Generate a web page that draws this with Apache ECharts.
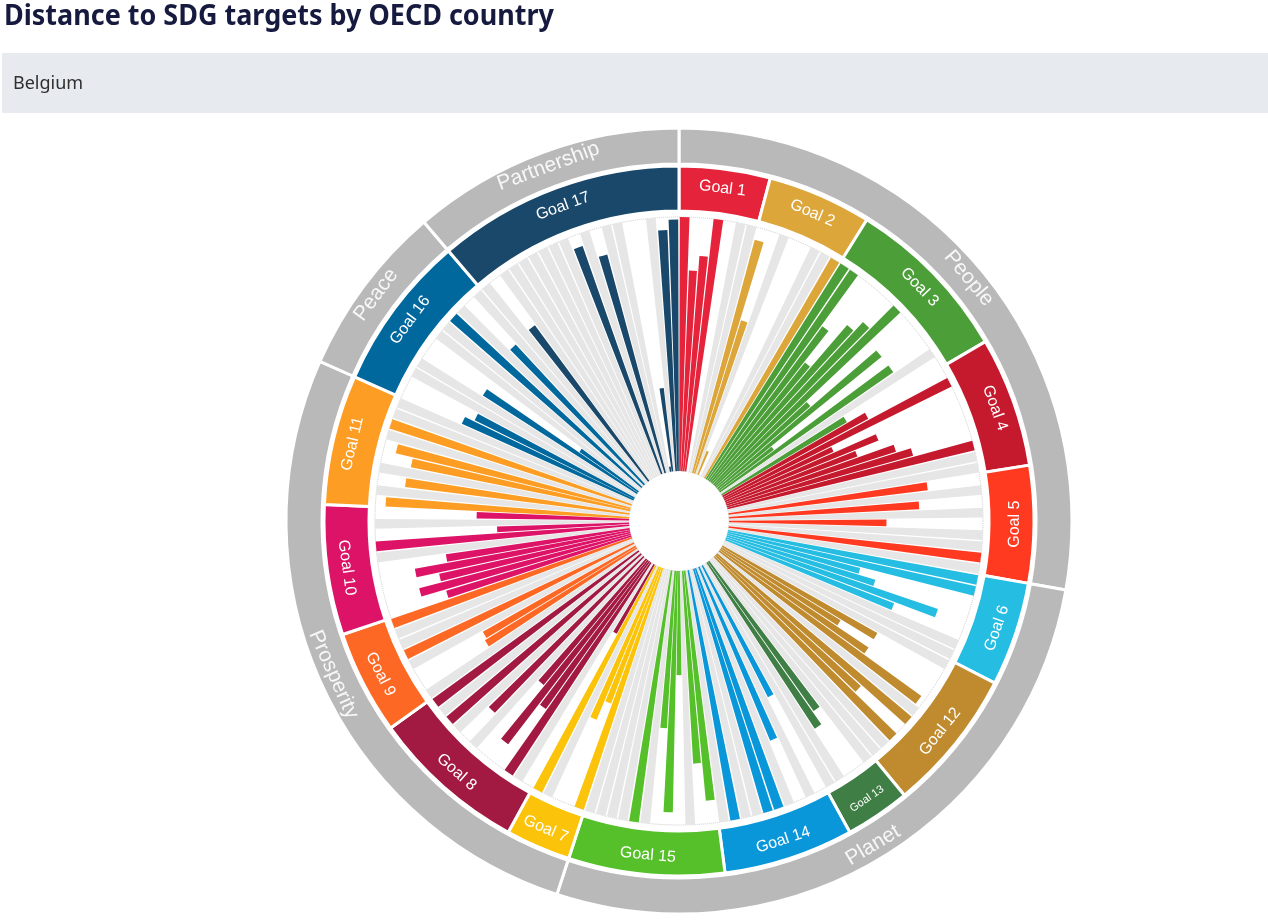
<!DOCTYPE html>
<html>
<head>
<meta charset="utf-8">
<script src="https://cdn.jsdelivr.net/npm/echarts@6/dist/echarts.min.js"></script>
<style>
html,body{margin:0;padding:0;background:#ffffff;}
#chart{width:1268px;height:920px;}
</style>
</head>
<body>
<div id="chart"></div>
<script>
// ---- Data ----
const titleText = 'Distance to SDG targets by OECD country';
const countryName = 'Belgium';

// clockwise order of goals around the wheel
const goalOrder = [1, 2, 3, 4, 5, 6, 12, 13, 14, 15, 7, 8, 9, 10, 11, 16, 17];
const goalColors = ['#E5243B', '#DDA63A', '#4C9F38', '#C5192D', '#FF3A21', '#26BDE2', '#FCC30B', '#A21942',
  '#FD6925', '#DD1367', '#FD9D24', '#BF8B2E', '#3F7E44', '#0A97D9', '#56C02B', '#00689D', '#19486A'];

// target values per goal (1 = target reached / outer circle); null = no data (grey bar)
const g1 = [1.0, 0.79, 0.85, 1.0, 0, null, null];
const g2 = [0.95, 0.63, null, 0.1, 0, null, null, 1.0];
const g3 = [1.0, 1.0, 0.755, 0.60, 0.82, 0.87, 1.0, 0.49, 0.83, 0.27, 0.83, null, 0.57];
const g4 = [0.65, 1.0, 0.47, 0.65, 0.55, 0.70, 0.76, 1.0, null, null];
const g5 = [0.79, null, 0.75, null, 0.62, null, null, 1.0, null];
const g6 = [1.0, 1.0, 0.54, 0.61, 0.88, 0.71, null, null];
const g7 = [1.0, 0.57, 0.65, null, 1.0];
const g8 = [0.31, null, 1.0, 0.71, 0.91, 0.64, null, 0.85, null, 1.0, null, 1.0];
const g9 = [null, 0.70, 0.69, null, 1.0, null, null, 1.0];
const g10 = [0.76, 0.86, 0.77, 0.86, 0.73, null, 1.0, 0.52, null, 0.60];
const g11 = [0.96, null, 0.89, null, 0.88, 0.95, null, 1.0, null, null];
const g12 = [null, 0.70, 0.55, 0.70, 0.98, null, 1.0, 0.77, 1.0, null, null];
const g13 = [null, 0.72, 0.78, null, null];
const g14 = [0.58, null, 0.74, null, 1.0, 1.0, null, null, 1.0, null];
const g15 = [0.91, 0.76, null, 0.41, 0.95, 0.62, null, 1.0, null, null, null, null];
const g16 = [0.74, 0.70, null, null, 0.72, 0.28, null, null, 1.0, null, 0.75, null];
const g17 = [null, 0.76, null, null, null, null, null, null, null, 0.95, null, 0.89, null, null, 0.02, 0.33, null, 0.95, 0.99];

const pillarNames = ['People', 'Planet', 'Prosperity', 'Peace', 'Partnership'];
const pillarGoals = [[1, 2, 3, 4, 5], [6, 12, 13, 14, 15], [7, 8, 9, 10, 11], [16], [17]];

// ---- Build ----
const goalValues = [g1, g2, g3, g4, g5, g6, g7, g8, g9, g10, g11, g12, g13, g14, g15, g16, g17];
const categories = [];
const coloredData = [];
const greyData = [];
goalOrder.forEach(function (g) {
  const vals = goalValues[g - 1];
  vals.forEach(function (v, k) {
    categories.push(g + '.' + (k + 1));
    if (v === null) {
      coloredData.push('-');
      greyData.push(1);
    } else {
      coloredData.push({ value: v, itemStyle: { color: goalColors[g - 1] } });
      greyData.push('-');
    }
  });
});

const goalRingData = goalOrder.map(function (g) {
  return {
    name: 'Goal ' + g,
    value: goalValues[g - 1].length,
    itemStyle: { color: goalColors[g - 1] },
    label: g === 13 ? { fontSize: 11 } : {}
  };
});
const pillarRingData = pillarNames.map(function (p, i) {
  let n = 0;
  pillarGoals[i].forEach(function (g) { n += goalValues[g - 1].length; });
  return { name: p, value: n };
});

const CX = 679, CY = 521;
const chart = echarts.init(document.getElementById('chart'), null, { renderer: 'canvas' });
chart.setOption({
  animation: false,
  backgroundColor: '#ffffff',
  graphic: [
    { type: 'rect', shape: { x: 2, y: 53, width: 1266, height: 60 }, style: { fill: '#e7ebef' } },
    { type: 'text', x: 13, y: 84, style: { text: countryName, fontSize: 18, fontFamily: 'Noto Sans', fill: '#2f2f2f', verticalAlign: 'middle' } },
    { type: 'text', x: 4, y: 2, scaleX: 0.93, style: { text: titleText, fontSize: 29, fontWeight: 'bold', fontFamily: 'Noto Sans', fill: '#151a3e', verticalAlign: 'top' } }
  ],
  polar: { center: [CX, CY], radius: [50, 304] },
  angleAxis: {
    type: 'category', data: categories, startAngle: 90, clockwise: true, boundaryGap: true,
    axisLine: { show: false }, axisTick: { show: false }, axisLabel: { show: false }, splitLine: { show: false }
  },
  radiusAxis: {
    type: 'value', min: 0, max: 1, interval: 1,
    axisLine: { show: false }, axisTick: { show: false }, axisLabel: { show: false },
    splitLine: { show: true, lineStyle: { color: '#cccccc', type: 'dotted', width: 1 } }
  },
  series: [
    {
      type: 'bar', coordinateSystem: 'polar', data: greyData, barGap: '-100%', barCategoryGap: '14%',
      itemStyle: { color: '#e6e6e6' }, silent: true, z: 2
    },
    {
      type: 'bar', coordinateSystem: 'polar', data: coloredData, barGap: '-100%', barCategoryGap: '14%',
      silent: true, z: 3
    },
    {
      type: 'pie', center: [CX, CY], radius: [310, 355], startAngle: 90, clockwise: true,
      avoidLabelOverlap: false, silent: true, data: goalRingData,
      itemStyle: { borderColor: '#ffffff', borderWidth: 3 },
      label: { show: true, position: 'inside', rotate: 'tangential', color: '#ffffff', fontSize: 16, fontFamily: 'Liberation Sans', formatter: '{b}' },
      labelLine: { show: false }
    },
    {
      type: 'pie', center: [CX, CY], radius: [357, 393], startAngle: 90, clockwise: true,
      avoidLabelOverlap: false, silent: true, data: pillarRingData,
      itemStyle: { color: '#b9b9b9', borderColor: '#ffffff', borderWidth: 3 },
      label: { show: true, position: 'inside', rotate: 'tangential', color: '#f7f7f7', fontSize: 21, fontFamily: 'Liberation Sans', formatter: '{b}' },
      labelLine: { show: false }
    }
  ]
});
</script>
</body>
</html>
